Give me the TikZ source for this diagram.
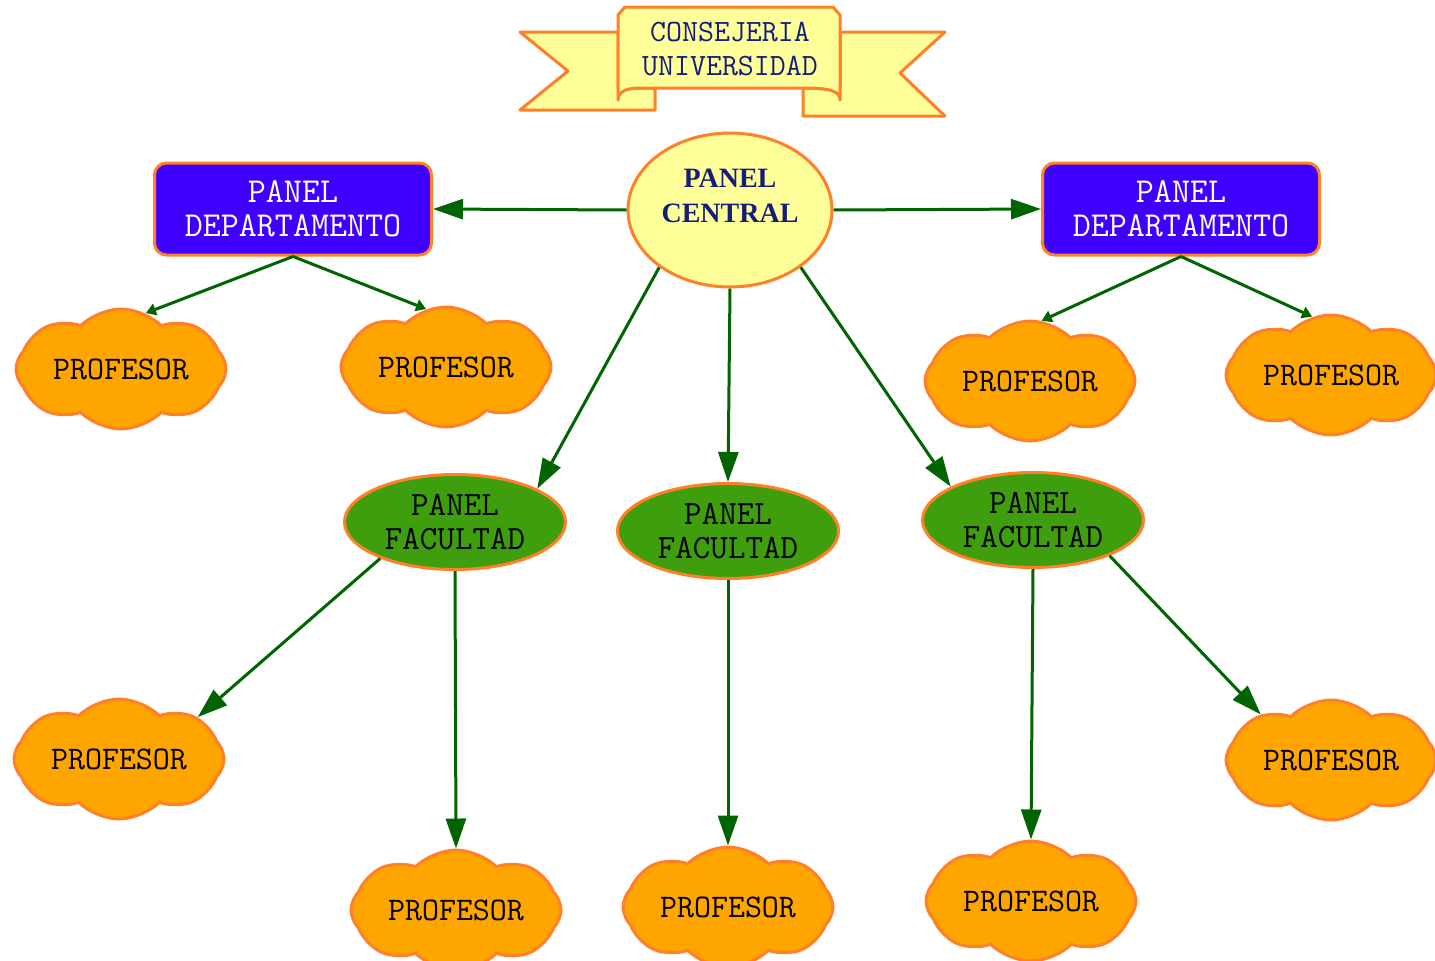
\documentclass[tikz,border=0pt]{standalone}
\usepackage{fontspec}
\setmainfont{Liberation Serif}
\usetikzlibrary{shapes.geometric,shapes.symbols,arrows.meta}

\definecolor{borde}{RGB}{255,128,40}
\definecolor{crema}{RGB}{255,255,153}
\definecolor{violeta}{RGB}{64,0,255}
\definecolor{verdefac}{RGB}{62,158,14}
\definecolor{verdeflecha}{RGB}{0,100,0}
\definecolor{naranja}{RGB}{255,165,0}
\definecolor{marino}{RGB}{20,30,120}

\tikzset{
  banda/.style={draw=borde, line width=3pt, fill=crema, line join=round},
  central/.style={ellipse, draw=borde, line width=3pt, fill=crema, minimum width=204pt, minimum height=154pt, inner sep=0pt, align=center, text=marino, text depth=28pt, font=\fontsize{28}{35}\selectfont\bfseries},
  depto/.style={draw=borde, line width=3pt, fill=violeta, rounded corners=12pt, minimum width=277pt, minimum height=92pt, inner sep=0pt, align=center, text=white, font=\fontsize{35}{34}\selectfont\ttfamily},
  facultad/.style={ellipse, draw=borde, line width=3pt, fill=verdefac, minimum width=221pt, minimum height=95pt, inner sep=0pt, align=center, font=\fontsize{34}{34}\selectfont\ttfamily},
  profesor/.style={cloud, cloud puffs=8, cloud puff arc=90, cloud ignores aspect, draw=borde, line width=3pt, fill=naranja, minimum width=210pt, minimum height=120pt, inner sep=0pt, font=\fontsize{33}{34}\selectfont\ttfamily},
  flecha/.style={verdeflecha, line width=3pt, -{Triangle[length=30pt,width=20pt]}},
  flechita/.style={verdeflecha, line width=3pt, -{Triangle[length=10pt,width=12pt]}},
}

\begin{document}
\begin{tikzpicture}[x=1pt, y=-1pt]
\useasboundingbox (0,0) rectangle (1435,961);

% banda de la consejeria
\draw[banda] (520,32) -- (618,32) -- (618,88) -- (655,88) -- (655,110) -- (520,110) -- (568,71) -- cycle;
\draw[banda] (945,32) -- (840,32) -- (840,88) -- (803,88) -- (803,116) -- (945,116) -- (900,73) -- cycle;
\draw[banda] (618,15) -- (625,7) -- (833,7) -- (840,15) -- (840,100) .. controls (840,91) and (830,88) .. (803,88) -- (640,88) .. controls (626,88) and (618,92) .. (618,100) -- cycle;
\node[align=center, text=marino, font=\fontsize{31}{34}\selectfont\ttfamily] (consejeria) at (730,49) {CONSEJERIA\\UNIVERSIDAD};

% paneles
\node[central] (central) at (730,210) {PANEL\\CENTRAL};
\node[depto] (deptIzq) at (293,209) {PANEL\\DEPARTAMENTO};
\node[depto] (deptDer) at (1181,209) {PANEL\\DEPARTAMENTO};
\node[facultad] (fac1) at (455,522) {PANEL\\FACULTAD};
\node[facultad] (fac2) at (728,531) {PANEL\\FACULTAD};
\node[facultad] (fac3) at (1033,520) {PANEL\\FACULTAD};

% profesores
\node[profesor] (prof1) at (121,369) {PROFESOR};
\node[profesor] (prof2) at (446,367) {PROFESOR};
\node[profesor] (prof3) at (1030,381) {PROFESOR};
\node[profesor] (prof4) at (1331,375) {PROFESOR};
\node[profesor] (prof5) at (119,759) {PROFESOR};
\node[profesor] (prof6) at (456,910) {PROFESOR};
\node[profesor] (prof7) at (728,907) {PROFESOR};
\node[profesor] (prof8) at (1031,901) {PROFESOR};
\node[profesor] (prof9) at (1331,760) {PROFESOR};

% flechas
\draw[flecha] (central.west) -- (deptIzq.east);
\draw[flecha] (central.east) -- (deptDer.west);
\draw[flecha] (central.219) -- (fac1.22);
\draw[flecha] (central.south) -- (fac2.north);
\draw[flecha] (central.321) -- (fac3.158);
\draw[flecha] (fac1.206) -- (prof5.28);
\draw[flecha] (fac1.south) -- (prof6.north);
\draw[flecha] (fac2.south) -- (prof7.north);
\draw[flecha] (fac3.south) -- (prof8.north);
\draw[flecha] (fac3.335) -- (prof9.147);
\draw[flechita] (deptIzq.south) -- (prof1.66);
\draw[flechita] (deptIzq.south) -- (prof2.109);
\draw[flechita] (deptDer.south) -- (prof3.79);
\draw[flechita] (deptDer.south) -- (prof4.108);
\end{tikzpicture}
\end{document}
